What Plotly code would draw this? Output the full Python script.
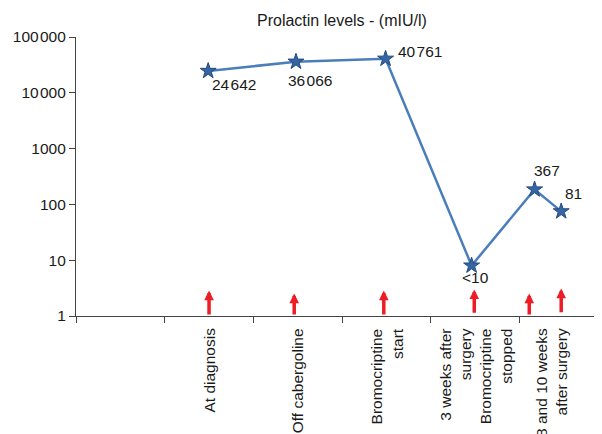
import math
import plotly.graph_objects as go

# ---- data ----
title_text = "Prolactin levels - (mIU/l)"
point_x = [1.49, 2.48, 3.49, 4.46, 5.17, 5.47]          # time position (category units)
point_values = [24642, 36066, 40761, 8, 185, 75]        # plotted prolactin level
point_labels = ["24\u200a642", "36\u200a066", "40\u200a761", "<10", "367", "81"]
label_offsets = [(26, 14), (14, 19), (34, -7), (4, 12), (12, -19), (12, -18)]

category_centers = [1.5, 2.5, 3.5, 4.5, 5.36]
category_labels = [
    "At diagnosis",
    "Off cabergoline",
    "Bromocriptine<br>start",
    "3 weeks after<br>surgery<br>Bromocriptine<br>stopped",
    "8 and 10 weeks<br>after surgery",
]

arrow_x = [1.50, 2.46, 3.47, 4.49, 5.11, 5.47]
arrow_top = [2.86, 2.53, 2.86, 2.99, 2.53, 3.1]
arrow_bottom = [1.0, 1.0, 1.0, 1.08, 1.0, 1.1]

y_tickvals = [1, 10, 100, 1000, 10000, 100000]
y_ticktext = ["1", "10", "100", "1000", "10\u200a000", "100\u200a000"]
x_tickvals = [0, 1, 2, 3, 4, 5]

FONT = "Liberation Sans, Arial, sans-serif"
TXT = "#1a1a1a"

fig = go.Figure()
fig.add_trace(go.Scatter(
    x=point_x, y=point_values, mode="lines+markers",
    line=dict(color="#4a7ebb", width=2.5),
    marker=dict(symbol="star", size=12, color="#3565a3",
                line=dict(color="#244a7e", width=1)),
    hoverinfo="skip", showlegend=False,
))

annotations = []
for xv, yv, txt, (dx, dy) in zip(point_x, point_values, point_labels, label_offsets):
    annotations.append(dict(
        x=xv, y=math.log10(yv), xref="x", yref="y", text=txt, showarrow=False,
        xshift=dx, yshift=-dy, font=dict(family=FONT, size=15.5, color=TXT),
    ))

for xv, top, bot in zip(arrow_x, arrow_top, arrow_bottom):
    annotations.append(dict(
        x=xv, y=math.log10(top), ax=xv, ay=math.log10(bot),
        xref="x", yref="y", axref="x", ayref="y", text="",
        showarrow=True, arrowhead=2, arrowsize=0.55, arrowwidth=3.5,
        arrowcolor="#ee1c25", standoff=0, startstandoff=0,
    ))

for xv, txt in zip(category_centers, category_labels):
    annotations.append(dict(
        x=xv, y=0, xref="x", yref="paper", text=txt, showarrow=False,
        textangle=-90, yanchor="top", xanchor="center", align="right",
        yshift=-10, font=dict(family=FONT, size=15.5, color=TXT),
    ))

annotations.append(dict(
    x=(342 - 76) / 526, y=(316 - 21) / 279, xref="paper", yref="paper",
    text=title_text, showarrow=False, yanchor="middle", xanchor="center",
    font=dict(family=FONT, size=16, color=TXT),
))

# page body has an 8px margin, so the figure is sized to fill the rest of the window
fig.update_layout(
    width=594, height=426,
    margin=dict(l=68, r=0, t=29, b=118),
    paper_bgcolor="white", plot_bgcolor="white",
    annotations=annotations,
    font=dict(family=FONT, size=15, color=TXT),
    xaxis=dict(range=[0, 5.93], tickvals=x_tickvals, showticklabels=False,
               ticks="outside", ticklen=6, tickcolor="#444", automargin=False,
               showline=True, linecolor="#444", linewidth=1.2,
               showgrid=False, zeroline=False),
    yaxis=dict(type="log", range=[0, 5], tickvals=y_tickvals, ticktext=y_ticktext,
               ticks="outside", ticklen=6, tickcolor="#444", automargin=False,
               showline=True, linecolor="#444", linewidth=1.2,
               showgrid=False, zeroline=False,
               tickfont=dict(family=FONT, size=15.5, color=TXT)),
)

fig.write_html("out.html")
